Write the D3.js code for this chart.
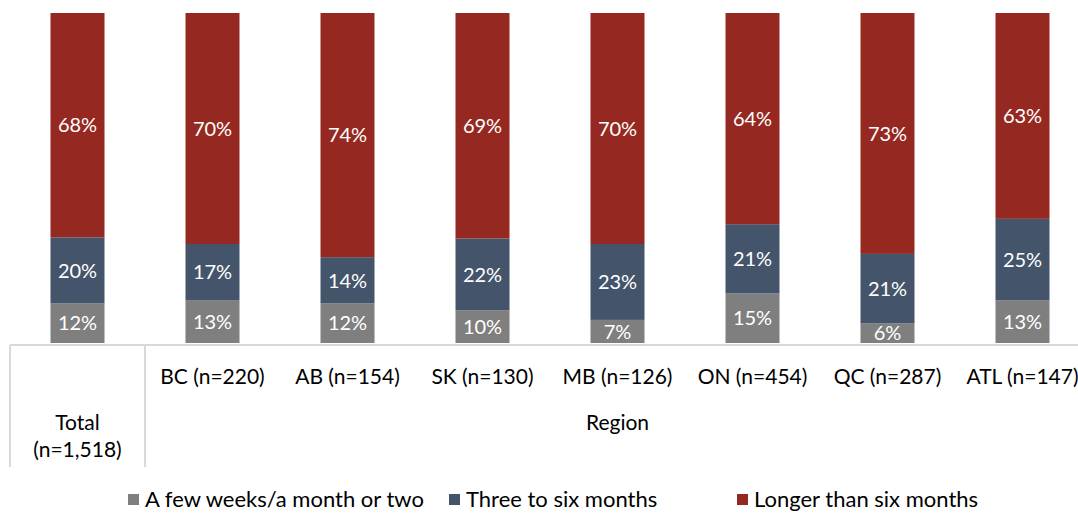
<!DOCTYPE html>
<html>
<head>
<meta charset="utf-8">
<script src="https://cdn.jsdelivr.net/npm/d3@7"></script>
<style>
  body { margin: 0; background: #fff; }
  text { font-family: Lato, "Open Sans", sans-serif; }
</style>
</head>
<body>
<div id="chart"></div>
<script>
  var categories = ["Total", "BC", "AB", "SK", "MB", "ON", "QC", "ATL"];
  var catLabels = ["", "BC (n=220)", "AB (n=154)", "SK (n=130)", "MB (n=126)", "ON (n=454)", "QC (n=287)", "ATL (n=147)"];
  var seriesNames = ["A few weeks/a month or two", "Three to six months", "Longer than six months"];
  var fewWeeks = [12, 13, 12, 10, 7, 15, 6, 13];
  var threeToSix = [20, 17, 14, 22, 23, 21, 21, 25];
  var longer = [68, 70, 74, 69, 70, 64, 73, 63];
  var colors = ["#7f7f7f", "#44546a", "#952921"];

  var width = 1078, height = 514;

  var svg = d3.select("#chart")
    .append("svg")
    .attr("width", width)
    .attr("height", height);

  var x = d3.scaleBand()
    .domain(categories)
    .range([10, 1090])
    .paddingInner(0.6)
    .paddingOuter(0.3);

  // shares of each bar (rounded labels can add to 101)
  var y = d3.scaleLinear()
    .domain([0, 1])
    .range([343, 13]);

  var rows = categories.map(function (c, i) {
    return { cat: c, s0: fewWeeks[i], s1: threeToSix[i], s2: longer[i] };
  });
  var stack = d3.stack().keys(["s0", "s1", "s2"]).offset(d3.stackOffsetExpand);
  var layers = stack(rows);

  // bars
  var g = svg.selectAll(".layer")
    .data(layers)
    .enter().append("g")
    .attr("class", "layer")
    .attr("fill", function (d, i) { return colors[i]; });

  g.selectAll("rect")
    .data(function (d) { return d; })
    .enter().append("rect")
    .attr("x", function (d) { return x(d.data.cat); })
    .attr("y", function (d) { return y(d[1]); })
    .attr("width", x.bandwidth())
    .attr("height", function (d) { return y(d[0]) - y(d[1]); });

  // value labels
  g.selectAll("text")
    .data(function (d) { return d.map(function (p) { return { p: p, key: d.key }; }); })
    .enter().append("text")
    .attr("x", function (d) { return x(d.p.data.cat) + x.bandwidth() / 2; })
    .attr("y", function (d) { return (y(d.p[0]) + y(d.p[1])) / 2; })
    .attr("dy", "0.36em")
    .attr("text-anchor", "middle")
    .attr("fill", "#fff")
    .attr("font-size", 20)
    .text(function (d) { return d.p.data[d.key] + "%"; });

  // table style axis lines
  var lineColor = "#d9d9d9";
  svg.append("line")
    .attr("x1", 10).attr("x2", width)
    .attr("y1", 345).attr("y2", 345)
    .attr("stroke", lineColor).attr("stroke-width", 2);
  [10, 145].forEach(function (lx) {
    svg.append("line")
      .attr("x1", lx).attr("x2", lx)
      .attr("y1", 345).attr("y2", 467)
      .attr("stroke", lineColor).attr("stroke-width", 2);
  });

  // category labels
  svg.selectAll(".cat")
    .data(categories.slice(1))
    .enter().append("text")
    .attr("class", "cat")
    .attr("x", function (d) { return x(d) + x.bandwidth() / 2; })
    .attr("y", 384)
    .attr("text-anchor", "middle")
    .attr("font-size", 21)
    .attr("fill", "#000")
    .text(function (d, i) { return catLabels[i + 1]; });

  svg.append("text")
    .attr("x", x("Total") + x.bandwidth() / 2)
    .attr("y", 430)
    .attr("text-anchor", "middle")
    .attr("font-size", 21)
    .text("Total");
  svg.append("text")
    .attr("x", x("Total") + x.bandwidth() / 2)
    .attr("y", 457)
    .attr("text-anchor", "middle")
    .attr("font-size", 21)
    .text("(n=1,518)");

  svg.append("text")
    .attr("x", (x("BC") + x("ATL") + x.bandwidth()) / 2)
    .attr("y", 430)
    .attr("text-anchor", "middle")
    .attr("font-size", 21)
    .text("Region");

  // legend
  var legendX = [128, 449, 737];
  var legend = svg.selectAll(".legend")
    .data(seriesNames)
    .enter().append("g")
    .attr("class", "legend")
    .attr("transform", function (d, i) { return "translate(" + legendX[i] + ",493)"; });
  legend.append("rect")
    .attr("x", 0).attr("y", 1)
    .attr("width", 11).attr("height", 11)
    .attr("fill", function (d, i) { return colors[i]; });
  legend.append("text")
    .attr("x", 17).attr("y", 14)
    .attr("font-size", 22)
    .text(function (d) { return d; });
</script>
</body>
</html>
